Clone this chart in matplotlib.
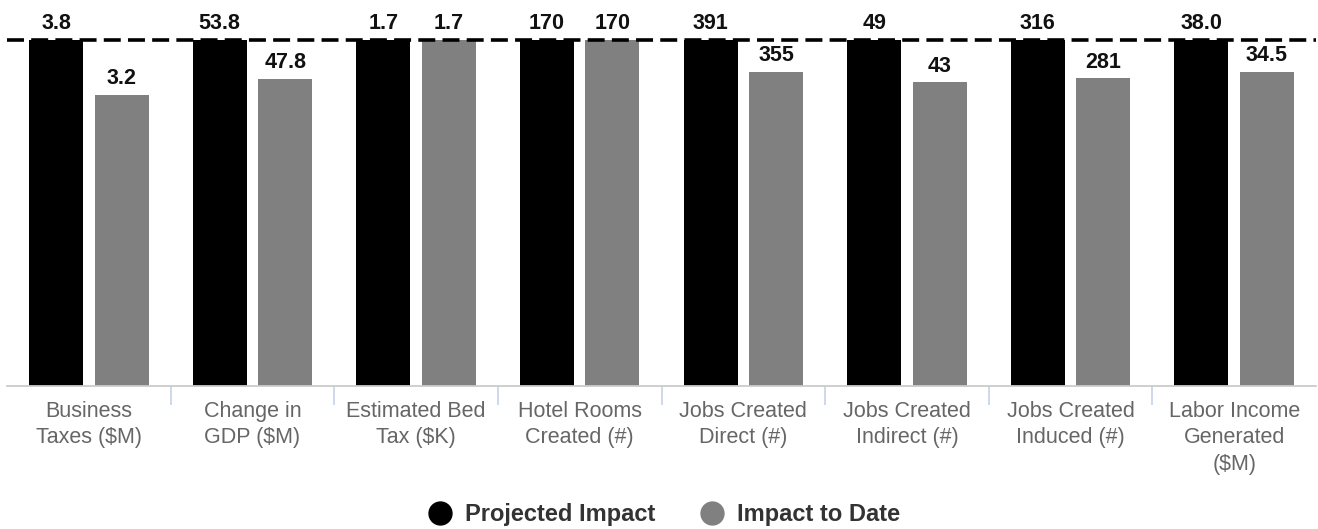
"""
Impacto proyectado frente a impacto a la fecha, por indicador.
"""

import matplotlib
matplotlib.use("Agg")
import matplotlib.pyplot as plt
from matplotlib.lines import Line2D
import numpy as np

plt.rcParams['font.family'] = ['Liberation Sans', 'DejaVu Sans']

# datos
categorias = ["Business\nTaxes ($M)", "Change in\nGDP ($M)",
              "Estimated Bed\nTax ($K)", "Hotel Rooms\nCreated (#)",
              "Jobs Created\nDirect (#)", "Jobs Created\nIndirect (#)",
              "Jobs Created\nInduced (#)", "Labor Income\nGenerated\n($M)"]
proyectado = [3.8, 53.8, 1.7, 170, 391, 49, 316, 38.0]
a_la_fecha = [3.2, 47.8, 1.7, 170, 355, 43, 281, 34.5]
etiq_proy = ["3.8", "53.8", "1.7", "170", "391", "49", "316", "38.0"]
etiq_fecha = ["3.2", "47.8", "1.7", "170", "355", "43", "281", "34.5"]

# cada categoria se normaliza respecto a su valor proyectado
proy = np.array(proyectado, dtype=float)
fecha = np.array(a_la_fecha, dtype=float)
alto_proy = proy / proy
alto_fecha = fecha / proy

fig = plt.figure(figsize=(13.18, 5.29), dpi=100)
ax = fig.add_axes([7 / 1318, 143 / 529, 1309 / 1318, 346 / 529])

x = np.arange(len(categorias))
ancho = 0.33
desp = 0.2
ax.bar(x - desp, alto_proy, ancho, color='#000000', zorder=2)
ax.bar(x + desp, alto_fecha, ancho, color='#808080', zorder=2)

# linea discontinua del objetivo
ax.axhline(1.0, color='#000000', lw=2.6, ls=(0, (4.7, 2.0)), zorder=3,
           clip_on=False)

# etiquetas de valores
for xi, h, t in zip(x, alto_proy, etiq_proy):
    ax.annotate(t, (xi - desp, h), xytext=(0, 4), textcoords='offset points',
                ha='center', va='bottom', fontsize=15.5, fontweight='bold',
                color='#111111', annotation_clip=False)
for xi, h, t in zip(x, alto_fecha, etiq_fecha):
    ax.annotate(t, (xi + desp, h), xytext=(0, 4), textcoords='offset points',
                ha='center', va='bottom', fontsize=15.5, fontweight='bold',
                color='#111111', annotation_clip=False)

ax.set_xlim(-0.5, len(categorias) - 0.5)
ax.set_ylim(0, 1.0)
ax.set_yticks([])
for lado in ['top', 'right', 'left']:
    ax.spines[lado].set_visible(False)
ax.spines['bottom'].set_color('#cccccc')
ax.spines['bottom'].set_linewidth(1.3)

ax.set_xticks(x)
ax.set_xticklabels(categorias, fontsize=15.5, color='#666666',
                   linespacing=1.32)
ax.tick_params(axis='x', which='major', length=0, pad=11)
ax.set_xticks(np.arange(0.5, len(categorias) - 1, 1.0), minor=True)
ax.tick_params(axis='x', which='minor', length=13.5, width=1.3,
               color='#c9d5ea')

# leyenda
handles = [Line2D([], [], ls='', marker='o', ms=16.5, color='#000000'),
           Line2D([], [], ls='', marker='o', ms=16.5, color='#808080')]
leg = fig.legend(handles, ['Projected Impact', 'Impact to Date'], ncol=2,
                 loc='center', bbox_to_anchor=(664 / 1318, 14 / 529),
                 frameon=False, handlelength=1.0, handletextpad=0.57,
                 columnspacing=1.9, borderpad=0,
                 prop={'size': 17, 'weight': 'bold'})
for t in leg.get_texts():
    t.set_color('#333333')

plt.savefig("out.png", dpi=100)
